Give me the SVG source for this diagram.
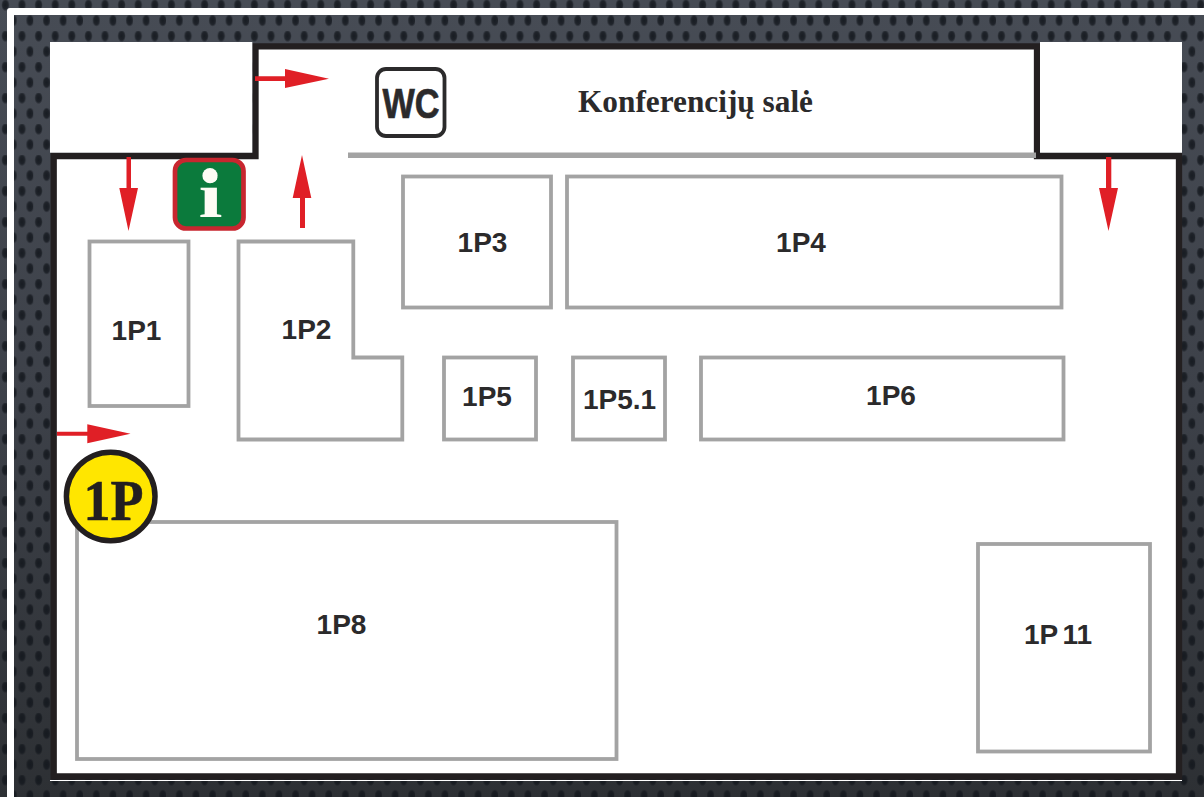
<svg xmlns="http://www.w3.org/2000/svg" width="1204" height="797" viewBox="0 0 1204 797">
<style>
.room{fill:#fff;stroke:#a3a3a3;stroke-width:3.800;stroke-linejoin:miter}
.lbl{font-family:"Liberation Sans",Arial,sans-serif;font-weight:700;font-size:28px;fill:#2b2a2b;text-anchor:middle}
.arrow{fill:#e01f26;stroke:none}
.dot{fill:url(#dotfill)}
</style>
<defs>
<linearGradient id="bg" x1="0" y1="0" x2="0" y2="1"><stop offset="0" stop-color="#474c55"/><stop offset="0.5" stop-color="#3d4149"/><stop offset="1" stop-color="#2d3034"/></linearGradient>
<radialGradient id="dotfill"><stop offset="0" stop-color="#13171d" stop-opacity="0.9"/><stop offset="0.65" stop-color="#13171d" stop-opacity="0.75"/><stop offset="1" stop-color="#13171d" stop-opacity="0"/></radialGradient>
<pattern id="dots" x="0" y="0" width="16.6" height="31" patternUnits="userSpaceOnUse">
<ellipse class="dot" cx="5.400" cy="5" rx="4.200" ry="6.300"/>
<ellipse class="dot" cx="13.400" cy="20.500" rx="4.200" ry="6.300"/>
</pattern>
</defs>
<g id="background">
<rect width="1204" height="797" fill="url(#bg)"/>
<rect width="1204" height="797" fill="url(#dots)"/>
<path d="M7 797V11Q7 8 10 8H1204V15H14V797Z" fill="#fff"/>
<rect x="50" y="780" width="1132" height="1" fill="#fff"/>
</g>
<g id="walls">
<path d="M53.700 776.500V156H255.500V46.300H1037V156H1179V776.500Z" fill="#fff" stroke="#231f20" stroke-width="6.300"/>
<rect x="50" y="42" width="202.300" height="110.700" fill="#fff"/>
<rect x="1040" y="42" width="142" height="110.700" fill="#fff"/>
<path d="M348 155.300H1036" stroke="#a3a3a3" stroke-width="5.500" fill="none"/>
</g>
<g id="room-1P1"><rect class="room" x="89.500" y="241.500" width="99" height="164.500"/><text class="lbl" x="136.500" y="339.500">1P1</text></g>
<g id="room-1P2"><path class="room" d="M238.500 241.500H353.300V357.500H402.300V439.500H238.500Z"/><text class="lbl" x="306.500" y="339">1P2</text></g>
<g id="room-1P3"><rect class="room" x="403" y="176.500" width="148" height="131"/><text class="lbl" x="482.500" y="252">1P3</text></g>
<g id="room-1P4"><rect class="room" x="567" y="176.500" width="494.500" height="131"/><text class="lbl" x="801" y="252">1P4</text></g>
<g id="room-1P5"><rect class="room" x="444" y="357.500" width="92" height="82"/><text class="lbl" x="487" y="406">1P5</text></g>
<g id="room-1P5.1"><rect class="room" x="573" y="357.500" width="92" height="82"/><text class="lbl" x="619.500" y="409">1P5.1</text></g>
<g id="room-1P6"><rect class="room" x="701" y="357.500" width="362.500" height="82"/><text class="lbl" x="891" y="405">1P6</text></g>
<g id="room-1P8"><rect class="room" x="77" y="522" width="539.500" height="237"/><text class="lbl" x="341.500" y="634">1P8</text></g>
<g id="room-1P11"><rect class="room" x="978" y="544" width="172" height="207.500"/><text class="lbl" x="1058" y="644.300" word-spacing="-3">1P 11</text></g>
<g id="wc"><rect x="377" y="69" width="67.500" height="67" rx="9" fill="#fff" stroke="#2b2a2b" stroke-width="3.800"/><text x="411" y="117.500" font-family="'Liberation Sans',Arial,sans-serif" font-weight="700" font-size="43" fill="#2b2a2b" stroke="#2b2a2b" stroke-width="0.700" text-anchor="middle" textLength="57" lengthAdjust="spacingAndGlyphs">WC</text></g>
<g id="conference"><text x="695.500" y="112" font-family="'Liberation Serif','Times New Roman',serif" font-weight="700" font-size="31" fill="#2b2a2b" text-anchor="middle" textLength="235" lengthAdjust="spacingAndGlyphs">Konferencijų salė</text></g>
<g id="info"><rect x="175" y="160" width="68.500" height="68.500" rx="11" fill="#0b7a3c" stroke="#c8262f" stroke-width="4.700"/><text x="210.500" y="217" font-family="'Liberation Serif','Times New Roman',serif" font-weight="700" font-size="64" fill="#fdfdf5" text-anchor="middle" textLength="24" lengthAdjust="spacingAndGlyphs">i</text><circle cx="210" cy="175.700" r="7.600" fill="#fdfdf5"/></g>
<g id="level-badge"><circle cx="110.700" cy="496.500" r="44.300" fill="#ffe600" stroke="#231f20" stroke-width="5.500"/><text x="113.500" y="520" font-family="'Liberation Serif','Times New Roman',serif" font-weight="700" font-size="58" fill="#231f20" stroke="#231f20" stroke-width="0.600" text-anchor="middle" textLength="60" lengthAdjust="spacingAndGlyphs">1P</text></g>
<g id="connectors">
<path class="arrow" d="M126.500 157H131V188H138L128.500 231L119.300 188H126.500Z"/>
<path class="arrow" d="M300 228H305V198H311.300L302 155L292.700 198H300Z"/>
<path class="arrow" d="M255 76.300H285V69L329 78.700L285 88V81H255Z"/>
<path class="arrow" d="M57 431.700H87.300V424.300L130.500 433.700L87.300 443.300V435.700H57Z"/>
<path class="arrow" d="M1106 157H1111.300V188H1118L1108.500 231L1099 188H1106Z"/>
</g>
</svg>
